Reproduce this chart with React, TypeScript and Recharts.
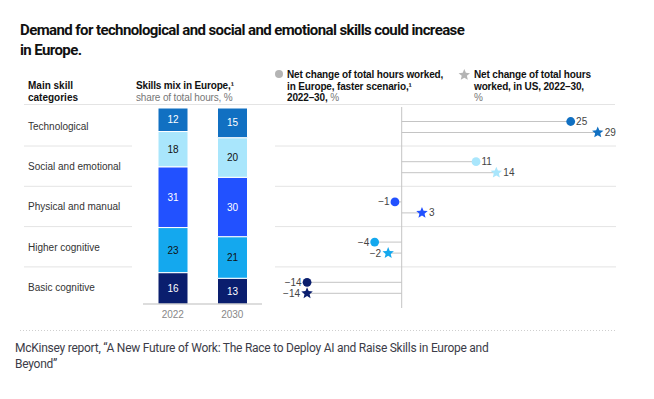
import React from 'react';
import { BarChart, Bar, XAxis, YAxis, LabelList, ReferenceLine } from 'recharts';

// skills mix in Europe, share of total hours (%)
const years = ['2022', '2030'];
const techMix = [12, 15];
const socialMix = [18, 20];
const physicalMix = [31, 30];
const higherMix = [23, 21];
const basicMix = [16, 13];

// net change of total hours worked 2022-30 (%)
const skillCategories = [
  'Technological',
  'Social and emotional',
  'Physical and manual',
  'Higher cognitive',
  'Basic cognitive',
];
const europeChange = [25, 11, -1, -4, -14];
const usChange = [29, 14, 3, -2, -14];

const COLORS = ['#1170c2', '#a9e6fc', '#2251ff', '#14a8ee', '#0a1e6e'];
const FONT = '"Liberation Sans", Arial, sans-serif';

const mixData = years.map((year, i) => ({
  year,
  basic: basicMix[i],
  higher: higherMix[i],
  physical: physicalMix[i],
  social: socialMix[i],
  tech: techMix[i],
}));

const changeData = skillCategories.map((cat, i) => ({
  cat,
  europe: europeChange[i],
  us: usChange[i],
  color: COLORS[i],
}));

const mixSeries = [
  { key: 'basic', color: COLORS[4], text: '#fff' },
  { key: 'higher', color: COLORS[3], text: '#111' },
  { key: 'physical', color: COLORS[2], text: '#fff' },
  { key: 'social', color: COLORS[1], text: '#111' },
  { key: 'tech', color: COLORS[0], text: '#fff' },
];

const starPath = (cx: number, cy: number, r: number) => {
  const pts: string[] = [];
  for (let k = 0; k < 10; k++) {
    const rad = k % 2 === 0 ? r : r * 0.45;
    const a = -Math.PI / 2 + (k * Math.PI) / 5;
    pts.push(`${(cx + rad * Math.cos(a)).toFixed(2)},${(cy + rad * Math.sin(a)).toFixed(2)}`);
  }
  return `M${pts.join('L')}Z`;
};

const fmt = (v: number) => (v < 0 ? `\u2212${Math.abs(v)}` : String(v));

const Lollipop = (props: any) => {
  const { x, y, width, height, payload, field, star } = props;
  const v: number = payload[field];
  const cy = y + height / 2;
  const lo = Math.min(x, x + width);
  const hi = Math.max(x, x + width);
  const mx = v >= 0 ? hi : lo;
  const r = star ? 6 : 4.4;
  return (
    <g>
      <line x1={lo} x2={hi} y1={cy} y2={cy} stroke="#c4c4c4" strokeWidth={1} />
      {star ? (
        <path d={starPath(mx, cy, r)} fill={payload.color} />
      ) : (
        <circle cx={mx} cy={cy} r={r} fill={payload.color} />
      )}
      <text
        x={v >= 0 ? mx + r + 1 : mx - r - 1}
        y={cy}
        dy="0.35em"
        textAnchor={v >= 0 ? 'start' : 'end'}
        fontSize={10}
        fill="#444"
        fontFamily={FONT}
      >
        {fmt(v)}
      </text>
    </g>
  );
};

const ROW_SEPS = [146, 186.3, 226.6, 266.9];

export default function App() {
  const boldHead: React.CSSProperties = {
    position: 'absolute',
    fontSize: 10,
    lineHeight: '11.7px',
    fontWeight: 700,
    color: '#111',
    letterSpacing: -0.15,
    whiteSpace: 'nowrap',
  };
  const gray: React.CSSProperties = { fontWeight: 400, color: '#777' };

  return (
    <div
      style={{
        position: 'absolute',
        left: 0,
        top: 0,
        width: 654,
        height: 399,
        background: '#fff',
        fontFamily: FONT,
        overflow: 'hidden',
      }}
    >
      <svg width={654} height={399} style={{ position: 'absolute', left: 0, top: 0 }}>
        <line x1={24} x2={615} y1={104.5} y2={104.5} stroke="#e4e4e4" />
        {ROW_SEPS.map((sy) => (
          <g key={sy}>
            <line x1={24} x2={132} y1={sy} y2={sy} stroke="#e4e4e4" />
            <line x1={275} x2={616} y1={sy} y2={sy} stroke="#e4e4e4" />
          </g>
        ))}
        {skillCategories.map((c, i) => (
          <text key={c} x={28} y={130 + i * 40.2} fontSize={10} fill="#333" fontFamily={FONT}>
            {c}
          </text>
        ))}
        <circle cx={279} cy={74} r={4} fill="#b4b4b4" />
        <path d={starPath(464.3, 75, 6)} fill="#b4b4b4" />
        <line x1={20} x2={615} y1={330.5} y2={330.5} stroke="#cfcfcf" strokeDasharray="1 2" />
      </svg>

      <div
        style={{
          position: 'absolute',
          left: 20,
          top: 19.5,
          fontFamily: 'Roboto, "Liberation Sans", sans-serif',
          fontSize: 15,
          lineHeight: '20px',
          fontWeight: 700,
          color: '#111',
          letterSpacing: -0.6,
          width: 620,
        }}
      >
        Demand for technological and social and emotional skills could increase
        <br />
        in Europe.
      </div>

      <div style={{ ...boldHead, left: 28, top: 79.5, lineHeight: '12px', letterSpacing: 0 }}>
        Main skill
        <br />
        categories
      </div>
      <div style={{ ...boldHead, left: 136, top: 79.5, lineHeight: '12px' }}>
        Skills mix in Europe,¹
        <br />
        <span style={gray}>share of total hours, %</span>
      </div>
      <div style={{ ...boldHead, left: 287, top: 69 }}>
        Net change of total hours worked,
        <br />
        in Europe, faster scenario,¹
        <br />
        2022–30, <span style={gray}>%</span>
      </div>
      <div style={{ ...boldHead, left: 474, top: 69 }}>
        Net change of total hours
        <br />
        worked, in US, 2022–30,
        <br />
        <span style={gray}>%</span>
      </div>

      <div style={{ position: 'absolute', left: 130, top: 0 }}>
        <BarChart
          width={150}
          height={330}
          data={mixData}
          stackOffset="expand"
          margin={{ top: 108, right: 18, bottom: 0, left: 13 }}
        >
          <XAxis
            dataKey="year"
            height={26}
            axisLine={{ stroke: '#bbb' }}
            tickLine={false}
            tickSize={5}
            tick={{ fill: '#888', fontSize: 10, fontFamily: FONT }}
          />
          <YAxis hide domain={[0, 1]} />
          {mixSeries.map((s) => (
            <Bar
              key={s.key}
              dataKey={s.key}
              stackId="mix"
              barSize={30}
              fill={s.color}
              stroke="#fff"
              strokeWidth={1}
              isAnimationActive={false}
            >
              <LabelList
                dataKey={s.key}
                position="center"
                fill={s.text}
                fontSize={10}
                fontFamily={FONT}
              />
            </Bar>
          ))}
        </BarChart>
      </div>

      <div style={{ position: 'absolute', left: 260, top: 0 }}>
        <BarChart
          width={380}
          height={330}
          data={changeData}
          layout="vertical"
          barSize={11}
          barGap={0}
          margin={{ top: 107, right: 35.5, bottom: 22, left: 40.3 }}
        >
          <XAxis type="number" hide domain={[-15, 30]} />
          <YAxis type="category" dataKey="cat" hide />
          <ReferenceLine x={0} stroke="#c4c4c4" />
          <Bar
            dataKey="europe"
            isAnimationActive={false}
            shape={(p: any) => <Lollipop {...p} field="europe" star={false} />}
          />
          <Bar
            dataKey="us"
            isAnimationActive={false}
            shape={(p: any) => <Lollipop {...p} field="us" star={true} />}
          />
        </BarChart>
      </div>

      <div
        style={{
          position: 'absolute',
          left: 15,
          top: 339.5,
          width: 630,
          fontFamily: 'Roboto, "Liberation Sans", sans-serif',
          fontSize: 12,
          lineHeight: '16.5px',
          letterSpacing: -0.25,
          color: '#3c3c48',
        }}
      >
        McKinsey report, “A New Future of Work: The Race to Deploy AI and Raise Skills in Europe and
        <br />
        Beyond”
      </div>
    </div>
  );
}
